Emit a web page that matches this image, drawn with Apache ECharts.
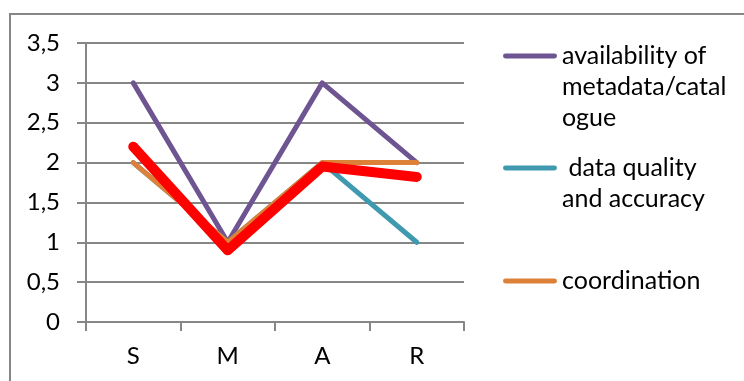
<!DOCTYPE html>
<html><head><meta charset="utf-8">
<script src="https://cdn.jsdelivr.net/npm/echarts@6/dist/echarts.min.js"></script>
<style>html,body{margin:0;padding:0;background:#fff;}#c{width:744px;height:381px;}</style>
</head><body><div id="c"></div>
<script>
const categories = ['S', 'M', 'A', 'R'];
const availability = [3, 1, 3, 2];
const dataQuality = [2, 1, 2, 1];
const coordination = [2, 1, 2, 2];
const average = [2.2, 0.9, 1.95, 1.82];
const seriesNames = ['availability of\nmetadata/catal\nogue', ' data quality\nand accuracy', 'coordination'];
const yTicks = [0, 0.5, 1, 1.5, 2, 2.5, 3, 3.5];

const FONT = 'Lato';
const FS = 24;
const LFS = 25;
const LH = 31;
const chart = echarts.init(document.getElementById('c'));
const gray = '#868686';
function legendFor(name, top, lines) {
  return {
    data: [name], orient: 'vertical', left: 503, top: top - (2 * lines - 1) * LH / 2,
    itemWidth: 54, itemHeight: 14, itemGap: 0, padding: 0,
    icon: 'path://M2,4.5 L52,4.5 A2.5,2.5 0 0 1 52,9.5 L2,9.5 A2.5,2.5 0 0 1 2,4.5 Z',
    selectedMode: false,
    formatter: n => '\n'.repeat(lines - 1) + n,
    textStyle: { fontFamily: FONT, fontSize: LFS, color: '#000', lineHeight: LH }
  };
}
chart.setOption({
  animation: false,
  textStyle: { fontFamily: FONT },
  graphic: [{ type: 'rect', shape: { x: 10, y: 14, width: 900, height: 500 }, style: { fill: 'none', stroke: gray, lineWidth: 2 }, z: -10 }],
  grid: { left: 86, right: 280, top: 43, bottom: 59, containLabel: false },
  legend: [
    legendFor(seriesNames[0], 56, 3),
    legendFor(seriesNames[1], 168, 2),
    legendFor(seriesNames[2], 281, 1)
  ],
  xAxis: {
    type: 'category', data: categories, boundaryGap: true,
    axisLine: { lineStyle: { color: gray, width: 2 } },
    axisTick: { show: true, length: 9, lineStyle: { color: gray, width: 2 } },
    axisLabel: { fontFamily: FONT, fontSize: FS, color: '#000', margin: 22 }
  },
  yAxis: {
    type: 'value', min: 0, max: 3.5, interval: 0.5,
    axisLine: { show: true, lineStyle: { color: gray, width: 2 } },
    axisTick: { show: true, length: 9, lineStyle: { color: gray, width: 2 } },
    splitLine: { lineStyle: { color: gray, width: 2 } },
    axisLabel: { fontFamily: FONT, fontSize: FS, color: '#000', margin: 26,
      formatter: v => String(v).replace('.', ',') }
  },
  series: [
    { name: seriesNames[0], type: 'line', data: availability, symbol: 'none', lineStyle: { color: '#6E5490', width: 5, cap: 'round', join: 'round' }, itemStyle: { color: '#6E5490' }, z: 2 },
    { name: seriesNames[1], type: 'line', data: dataQuality, symbol: 'none', lineStyle: { color: '#3F9AB0', width: 5, cap: 'round', join: 'round' }, itemStyle: { color: '#3F9AB0' }, z: 3 },
    { name: seriesNames[2], type: 'line', data: coordination, symbol: 'none', lineStyle: { color: '#DD8038', width: 5, cap: 'round', join: 'round' }, itemStyle: { color: '#DD8038' }, z: 4 },
    { name: 'average', type: 'line', data: average, symbol: 'none', lineStyle: { color: '#FF0000', width: 10, cap: 'round', join: 'round' }, itemStyle: { color: '#FF0000' }, z: 5 }
  ]
});
</script></body></html>
